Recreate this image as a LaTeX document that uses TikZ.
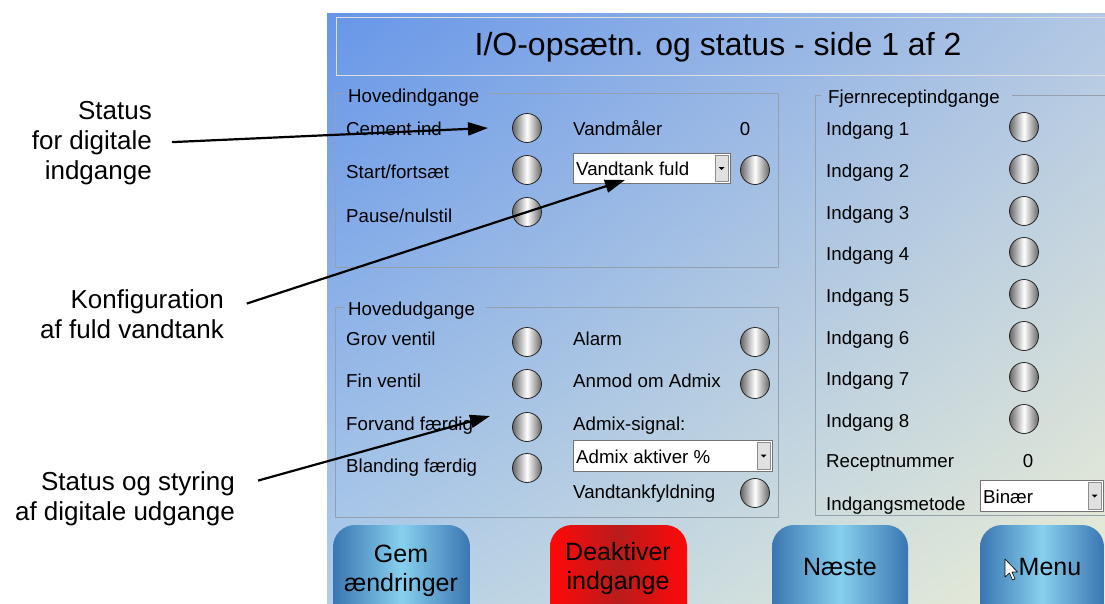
\documentclass[tikz,border=0pt]{standalone}
\usepackage{fontspec}
\setmainfont{Liberation Sans}
\usetikzlibrary{arrows.meta,shadings}
\definecolor{bgul}{RGB}{103,150,232}
\definecolor{bgur}{RGB}{178,200,228}
\definecolor{bgll}{RGB}{178,206,232}
\definecolor{bglr}{RGB}{236,238,212}
\definecolor{frm}{RGB}{150,160,172}
\definecolor{bdark}{RGB}{58,118,178}
\definecolor{blight}{RGB}{135,208,238}
\definecolor{rbright}{RGB}{255,8,8}
\definecolor{rdark}{RGB}{185,28,28}
\tikzset{
  lbl/.style={anchor=base west, inner sep=0pt, font=\fontsize{18.7}{22}\selectfont},
  val/.style={anchor=base, inner sep=0pt, font=\fontsize{18.7}{22}\selectfont},
  led/.style={circle, draw=black!85, line width=0.8pt, minimum size=29pt, inner sep=0pt,
    left color=black!60, right color=black!60, middle color=white},
  frm/.style={draw=frm, line width=1pt},
  callout/.style={anchor=east, align=right, inner sep=0pt, font=\fontsize{26}{30}\selectfont},
  btnb/.style={left color=bdark, right color=bdark, middle color=blight, rounded corners=22pt},
  btnr/.style={left color=rbright, right color=rbright, middle color=rdark, rounded corners=22pt},
  btxt/.style={align=center, inner sep=0pt, font=\fontsize{25}{29}\selectfont},
}
% rullemenu: x1,y1,x2,y2,navn,tekst
\newcommand{\combo}[6]{%
  \draw[fill=white, draw=black!55] (#1,#2) rectangle (#3,#4);
  \draw[fill=black!12, draw=black!45] (#3-15,#2+2) rectangle (#3-2,#4-2);
  \fill (#3-11.5,{(#2+#4)/2-1}) -- ++(6,0) -- ++(-3,3) -- cycle;
  \node[lbl] (#5) at (#1+3,#4-8) {#6};
}
\begin{document}
\begin{tikzpicture}[x=1pt, y=-1pt, >={Triangle[length=20pt,width=13pt]}, line join=round]
\useasboundingbox (0,0) rectangle (1105,603);
\clip (0,0) rectangle (1105,603);
% skaerm
\shade[upper left=bgul, upper right=bgur, lower left=bgll, lower right=bglr] (327,13) rectangle (1110,610);
\draw[draw=white!75!gray, line width=1pt] (336,17) rectangle (1120,75);
\node[anchor=base, inner sep=0pt, font=\fontsize{32}{38}\selectfont] (ttl) at (718,55) {I/O-opsætn. og status - side 1 af 2};
% Hovedindgange
\draw[frm] (345,93) -| (335,267) -| (778,93) -- (489,93);
\node[lbl] (hin) at (348,102) {Hovedindgange};
\path (346,135) node[lbl] (cem) {Cement ind} (346,178) node[lbl] (start) {Start/fortsæt} (346,222) node[lbl] (pause) {Pause/nulstil};
\path (527,128) node[led] (lcem) {} (527,170) node[led] (lstart) {} (527,212) node[led] (lpause) {};
\node[lbl] (vm) at (573,135) {Vandmåler};
\node[val] (vmv) at (745,135) {0};
\combo{573}{153}{730}{183}{vtf}{Vandtank fuld}
\node[led] (lvtf) at (755,170) {};
% Hovedudgange
\draw[frm] (345,307) -| (335,517) -| (778,307) -- (486,307);
\node[lbl] (hud) at (348,315) {Hovedudgange};
\path (346,345) node[lbl] (grov) {Grov ventil} (346,387) node[lbl] (fin) {Fin ventil} (346,430) node[lbl] (forv) {Forvand færdig} (346,472) node[lbl] (bland) {Blanding færdig};
\path (527,342) node[led] (lgrov) {} (527,384) node[led] (lfin) {} (527,427) node[led] (lforv) {} (527,468) node[led] (lbland) {};
\path (573,345) node[lbl] (alarm) {Alarm} (573,387) node[lbl] (anmod) {Anmod om Admix} (573,430) node[lbl] (adsig) {Admix-signal:} (573,498) node[lbl] (vtfyld) {Vandtankfyldning};
\path (755,342) node[led] (lalarm) {} (755,384) node[led] (lanmod) {} (755,493) node[led] (lvtfyld) {};
\combo{573}{440}{772}{471}{admix}{Admix aktiver \%}
% Fjernreceptindgange
\draw[frm] (821,95) -| (815,515) -- (1110,515) (1012,95) -- (1110,95);
\node[lbl] (fje) at (828,103) {Fjernreceptindgange};
\path (826,135) node[lbl] (in1) {Indgang 1} (826,177) node[lbl] (in2) {Indgang 2} (826,219) node[lbl] (in3) {Indgang 3} (826,260) node[lbl] (in4) {Indgang 4}
      (826,302) node[lbl] (in5) {Indgang 5} (826,344) node[lbl] (in6) {Indgang 6} (826,385) node[lbl] (in7) {Indgang 7} (826,427) node[lbl] (in8) {Indgang 8};
\path (1024,127) node[led] (lin1) {} (1024,169) node[led] (lin2) {} (1024,211) node[led] (lin3) {} (1024,252) node[led] (lin4) {}
      (1024,294) node[led] (lin5) {} (1024,336) node[led] (lin6) {} (1024,377) node[led] (lin7) {} (1024,419) node[led] (lin8) {};
\node[lbl] (rnr) at (826,467) {Receptnummer};
\node[val] (rnrv) at (1028,467) {0};
\node[lbl] (imet) at (826,510) {Indgangsmetode};
\combo{980}{480}{1103}{511}{binaer}{Binær}
% knapper
\shade[btnb] (333,525) rectangle (470,640);
\shade[btnr] (550,525) rectangle (687,640);
\shade[btnb] (772,525) rectangle (908,640);
\shade[btnb] (980,525) rectangle (1104,640);
\node[btxt] (bgem) at (401,571) {Gem\\ændringer};
\node[btxt] (bdeak) at (618,569) {Deaktiver\\indgange};
\node[btxt, anchor=base] (bnext) at (840,575) {Næste};
\node[btxt, anchor=base] (bmenu) at (1050,575) {Menu};
\draw[fill=white, line width=0.6pt] (1005,559) -- (1005,577) -- (1009.5,573) -- (1012.5,580) -- (1015,579) -- (1012,572) -- (1017.5,572) -- cycle;
% forklaringer
\node[callout] (stA) at (152,143) {Status\\for digitale\\indgange};
\node[callout] (stB) at (224,314) {Konfiguration\\af fuld vandtank};
\node[callout] (stC) at (235,499) {Status og styring\\af digitale udgange};
\coordinate (tipA) at (488,128);
\coordinate (tipB) at (625,180);
\coordinate (tipC) at (490,416);
\draw[->, line width=2.2pt, shorten <=20pt] (stA.east) -- (tipA);
\draw[->, line width=2.2pt, shorten <=24pt] ([yshift=3pt]stB.east) -- (tipB);
\draw[->, line width=2.2pt, shorten <=24pt] ([yshift=12pt]stC.east) -- (tipC);
\end{tikzpicture}
\end{document}
